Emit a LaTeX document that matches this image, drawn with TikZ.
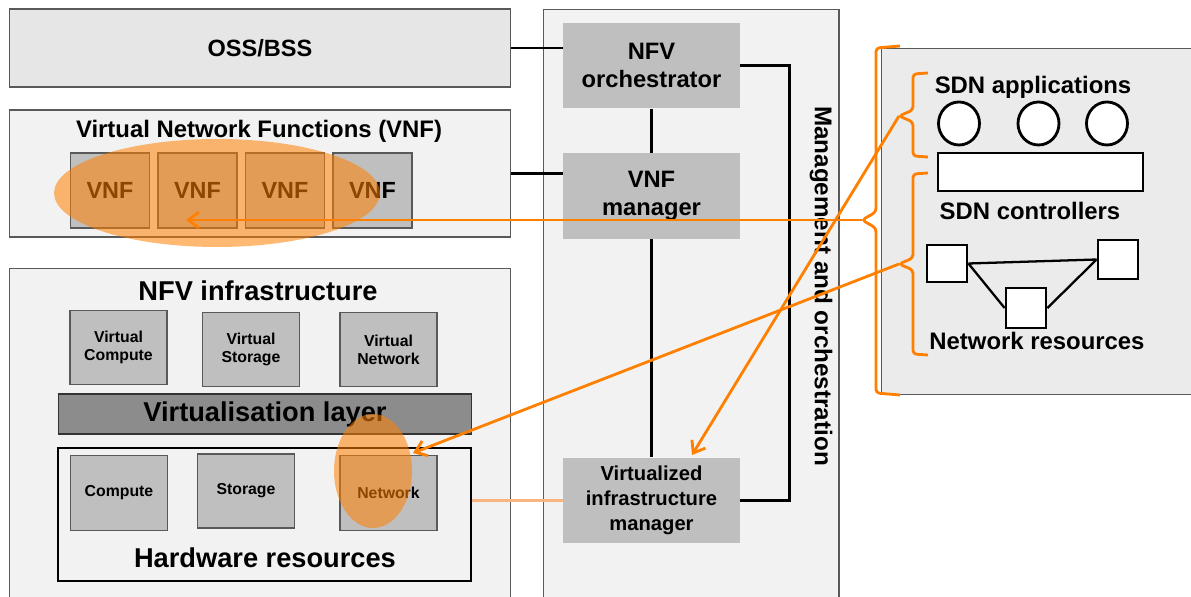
\documentclass[tikz,border=0pt]{standalone}
\usepackage{fontspec}
\setmainfont{Liberation Sans}
\usetikzlibrary{calc,arrows.meta,shapes.geometric}
\definecolor{panelgray}{HTML}{F2F2F2}
\definecolor{ossfill}{HTML}{E6E6E6}
\definecolor{sdnfill}{HTML}{EBEBEB}
\definecolor{boxfill}{HTML}{BFBFBF}
\definecolor{layerfill}{HTML}{8C8C8C}
\definecolor{edge}{HTML}{595959}
\definecolor{accent}{HTML}{FF8000}
\definecolor{accentlight}{HTML}{FAB47F}
\tikzset{
  panel/.style={draw=edge, fill=panelgray, line width=0.6pt},
  box/.style={draw=edge, fill=boxfill, line width=0.6pt, minimum width=1.94cm, minimum height=1.48cm, align=center, font=\fontsize{9}{10.4}\selectfont\bfseries},
  vnf/.style={draw=edge, fill=boxfill, line width=0.6pt, minimum width=1.58cm, minimum height=1.5cm, font=\fontsize{13.3}{15}\selectfont\bfseries},
  mano/.style={fill=boxfill, minimum width=3.54cm, minimum height=1.72cm, align=center, font=\fontsize{13.5}{16}\selectfont\bfseries},
  bigtext/.style={font=\fontsize{15.5}{18}\selectfont\bfseries},
  midtext/.style={font=\fontsize{13.6}{16}\selectfont\bfseries},
  conn/.style={draw=black, line width=1.5pt},
  orng/.style={draw=accent, line width=1.6pt, -{Straight Barb[length=6pt,width=9pt]}},
  brace/.style={draw=accent, line width=1.6pt, rounded corners=2pt},
  hot/.style={fill=accent, fill opacity=0.55},
  sdnobj/.style={draw=black, fill=white, line width=1.6pt, inner sep=0pt},
}
\begin{document}
\begin{tikzpicture}[x=0.02cm, y=-0.02cm]
  \useasboundingbox[fill=white] (0,0) rectangle (1191,597);
  % left column
  \node[panel, fill=ossfill, minimum width=10.04cm, minimum height=1.56cm, font=\fontsize{13.4}{16}\selectfont\bfseries] (oss) at (260,48) {OSS/BSS};
  \node[panel, minimum width=10.04cm, minimum height=2.54cm] (vnfc) at (260,173.5) {};
  \node[font=\fontsize{13.6}{15}\selectfont\bfseries] (vnft) at (259,131) {Virtual Network Functions (VNF)};
  \foreach \i/\x in {1/110,2/197.5,3/285,4/372.5}
    \node[vnf] (vnf\i) at (\x,190.5) {VNF};
  \node[panel, minimum width=10.04cm, minimum height=6.74cm] (nfvi) at (260,436.5) {};
  \node[bigtext] (nfvit) at (258,291) {NFV infrastructure};
  \node[box] (vcomp) at (118.5,347.5) {Virtual\\Compute};
  \node[box] (vstor) at (251,349.5) {Virtual\\Storage};
  \node[box] (vnet) at (388.5,349.5) {Virtual\\Network};
  \node[bigtext, draw=black!80, fill=layerfill, line width=0.6pt, minimum width=8.26cm, minimum height=0.8cm] (virt) at (265,414) {Virtualisation layer};
  \node[draw=black, fill=panelgray, line width=1.6pt, minimum width=8.26cm, minimum height=2.66cm] (hw) at (264.5,514.5) {};
  \node[box, minimum height=1.5cm] (comp) at (119,493) {Compute};
  \node[box] (stor) at (246,491) {Storage};
  \node[box, minimum height=1.5cm] (net) at (388.5,493) {Network};
  \node[bigtext] (hwt) at (265,558) {Hardware resources};
  % management and orchestration
  \node[panel, minimum width=5.92cm, minimum height=11.92cm] (manop) at (691,307) {};
  \node[mano] (nfvo) at (651.5,65.5) {NFV\\orchestrator};
  \node[mano] (vnfm) at (651.5,196) {VNF\\manager};
  \node[mano, font=\fontsize{11.5}{14.2}\selectfont\bfseries] (vim) at (651.5,500.5) {Virtualized\\infrastructure\\manager};
  \node[rotate=-90, font=\fontsize{13.8}{16}\selectfont\bfseries] (manot) at (821,286) {Management and orchestration};
  \draw[conn] (oss.east) -- (oss.east -| nfvo.west);
  \draw[conn] (vnfc.east) -- (vnfc.east -| vnfm.west);
  \draw[conn] (nfvo) -- (vnfm);
  \draw[conn] (vnfm) -- (vim);
  \draw[conn] (nfvo.east) -- ++(49,0) |- (vim.east);
  \draw[draw=accentlight, line width=1.5pt] (vim.west) -- (vim.west -| hw.east);
  % SDN side
  \node[panel, fill=sdnfill, minimum width=6.3cm, minimum height=6.94cm] (sdn) at (1038.5,221.5) {};
  \node[midtext] (appt) at (1033,87) {SDN applications};
  \foreach \i/\x in {1/959,2/1038.5,3/1107}
    \node[sdnobj, ellipse, minimum width=0.82cm, minimum height=0.86cm] (app\i) at (\x,123.5) {};
  \node[sdnobj, minimum width=4.1cm, minimum height=0.76cm] (ctrl) at (1040.5,172) {};
  \node[midtext] (ctrlt) at (1030,211) {SDN controllers};
  \node[sdnobj, minimum width=0.8cm, minimum height=0.74cm] (res1) at (947,263.5) {};
  \node[sdnobj, minimum width=0.8cm, minimum height=0.78cm] (res2) at (1118,259.5) {};
  \node[sdnobj, minimum width=0.8cm, minimum height=0.8cm] (res3) at (1026,308) {};
  \draw[line width=1.3pt] (res1.east) -- (res2.west) (res1.east) -- (res3.west) (res2.west) -- (res3.east);
  \node[midtext] (rest) at (1037,341) {Network resources};
  % highlights
  \fill[hot] (217,193) ellipse [x radius=3.26cm, y radius=1.08cm];
  \fill[hot] (373,471) ellipse [x radius=0.78cm, y radius=1.14cm];
  % braces and mappings
  \coordinate (tipall) at (862,220);
  \coordinate (tipapp) at (899,116);
  \coordinate (tipnet) at (899,264);
  \coordinate (vnfhit) at (186,220);
  \coordinate (vimhit) at (692,455);
  \coordinate (nethit) at (413,453);
  \draw[brace] (900,46) -- (876,48) -- (876,212) -- (tipall) -- (876,228) -- (876,393) -- (900,395);
  \draw[brace] (928,73) -- (913,74) -- (913,110) -- (tipapp) -- (913,122) -- (913,156) -- (928,157);
  \draw[brace] (928,173) -- (913,174) -- (913,258) -- (tipnet) -- (913,270) -- (913,354) -- (928,355);
  \draw[orng] (tipall) -- (vnfhit);
  \draw[orng] (tipapp) -- (vimhit);
  \draw[orng] (tipnet) -- (nethit);
\end{tikzpicture}
\end{document}
